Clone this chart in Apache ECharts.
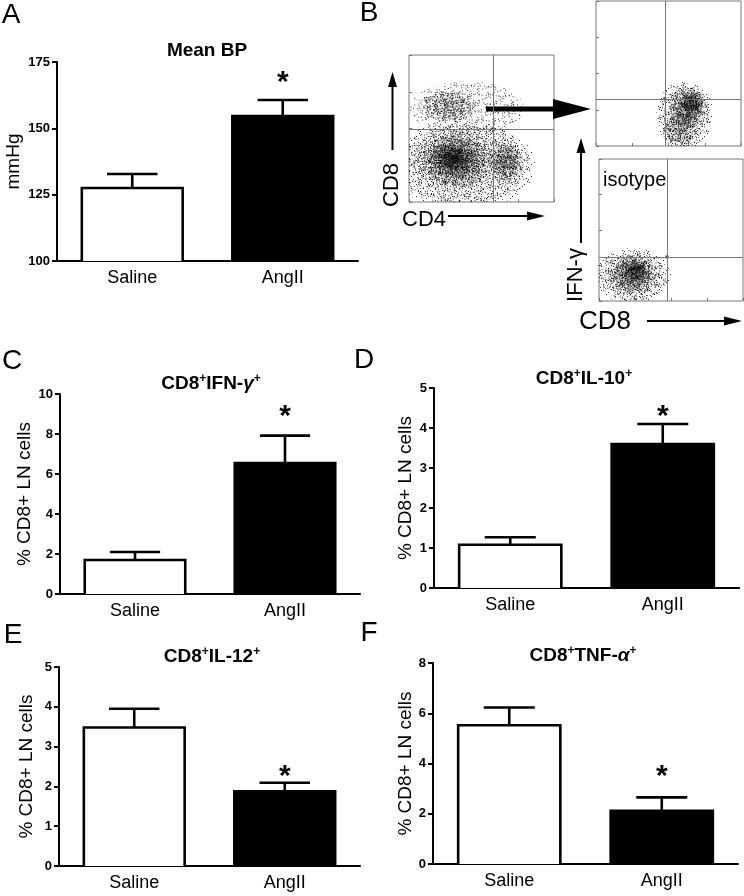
<!DOCTYPE html>
<html><head><meta charset="utf-8">
<script src="https://cdn.jsdelivr.net/npm/echarts@6/dist/echarts.min.js"></script>
<style>html,body{margin:0;padding:0;background:#fff}#c{width:744px;height:896px}</style>
</head><body><div id="c"></div>
<script>
// ---------- data ----------
const categories = ['Saline', 'AngII'];

const bpMean = [127.5, 154.6];
const bpSem = [5.3, 6.1];
const bpStar = [null, 169.7];

const ifngMean = [1.7, 6.55];
const ifngSem = [0.4, 1.37];
const ifngStar = [null, 9.2];

const il10Mean = [1.08, 3.6];
const il10Sem = [0.19, 0.5];
const il10Star = [null, 4.45];

const il12Mean = [3.48, 1.88];
const il12Sem = [0.47, 0.21];
const il12Star = [null, 2.41];

const tnfMean = [5.52, 2.12];
const tnfSem = [0.71, 0.53];
const tnfStar = [null, 3.75];

const yTicksA = [100, 175, 25];
const yTicksC = [0, 10, 2];
const yTicksD = [0, 5, 1];
const yTicksE = [0, 5, 1];
const yTicksF = [0, 8, 2];

// flow cytometry density clusters: [x, y, spreadX, spreadY, density] in log-decade units (0-4)
const flowCD4CD8 = [
  [1.5, 1.0, 1.9, 1.15, 0.22],
  [1.6, 2.55, 1.5, 0.7, 0.1],
  [1.08, 2.61, 0.75, 0.42, 0.4],
  [1.27, 1.14, 1.15, 0.78, 0.7],
  [1.19, 1.2, 0.58, 0.38, 0.9],
  [2.68, 1.09, 0.45, 0.6, 0.55]
];
const flowIFNg = [
  [2.45, 0.85, 0.75, 0.9, 0.22],
  [2.3, 0.45, 0.45, 0.5, 0.35],
  [2.54, 1.05, 0.5, 0.58, 0.55],
  [2.65, 1.19, 0.3, 0.35, 0.8]
];
const flowIsotype = [
  [0.95, 0.7, 1.0, 0.75, 0.22],
  [0.92, 0.73, 0.75, 0.55, 0.55],
  [1.03, 0.87, 0.4, 0.3, 0.75]
];
const gateCD4CD8 = [2.32, 1.99];
const gateIFNg = [1.90, 1.30];
const gateIsotype = [1.89, 1.24];

// ---------- setup ----------
const FF = "'Liberation Sans', Arial, Helvetica, sans-serif";
const FN = "'Liberation Sans Narrow', 'Arial Narrow', 'Liberation Sans', Arial, sans-serif";
const chart = echarts.init(document.getElementById('c'), null, {renderer: 'canvas', width: 744, height: 896});

// stipple texture tile (fixed dot layout) giving the flow clouds a dotted look
const tileDots = [[1,2],[8,4],[3,8],[10,10],[6,6],[0,11],[11,1]];
const tile = document.createElement('canvas');
tile.width = 12; tile.height = 12;
(function () {
  const g = tile.getContext('2d');
  g.fillStyle = '#000';
  tileDots.forEach(d => g.fillRect(d[0], d[1], 1, 1));
})();
const NL = 16;

const panels = [
  {mean: bpMean, sem: bpSem, star: bpStar, ticks: yTicksA, yName: 'mmHg',
   title: '{b|Mean BP}'},
  {mean: ifngMean, sem: ifngSem, star: ifngStar, ticks: yTicksC, yName: '% CD8+ LN cells',
   title: '{b|CD8}{s|+}{b|IFN-}{g|γ}{s|+}'},
  {mean: il10Mean, sem: il10Sem, star: il10Star, ticks: yTicksD, yName: '% CD8+ LN cells',
   title: '{b|CD8}{s|+}{b|IL-10}{s|+}'},
  {mean: il12Mean, sem: il12Sem, star: il12Star, ticks: yTicksE, yName: '% CD8+ LN cells',
   title: '{b|CD8}{s|+}{b|IL-12}{s|+}'},
  {mean: tnfMean, sem: tnfSem, star: tnfStar, ticks: yTicksF, yName: '% CD8+ LN cells',
   title: '{b|CD8}{s|+}{b|TNF-}{g|α}{s|+}'}
];
const layouts = [
  {left: 57, top: 62, width: 301, height: 199, nameGap: 34, tx: 207, ty: 51},
  {left: 60, top: 394, width: 300, height: 200, nameGap: 24, tx: 211, ty: 384},
  {left: 434, top: 388, width: 305, height: 200, nameGap: 19, tx: 584, ty: 379},
  {left: 59, top: 667, width: 301, height: 199, nameGap: 23, tx: 212, ty: 657},
  {left: 433, top: 663, width: 305, height: 201, nameGap: 18, tx: 583, ty: 656}
];
const flowSets = [
  {blobs: flowCD4CD8, gate: gateCD4CD8, box: {left: 409, top: 55, width: 145, height: 147}},
  {blobs: flowIFNg, gate: gateIFNg, box: {left: 596, top: 1, width: 145, height: 145}},
  {blobs: flowIsotype, gate: gateIsotype, box: {left: 599, top: 159, width: 144, height: 142}}
];

const grid = [], xAxis = [], yAxis = [], series = [], graphic = [];
const BW = 2.6;

panels.forEach((p, i) => {
  const L = layouts[i];
  grid.push({left: L.left, top: L.top, width: L.width, height: L.height, containLabel: false});
  xAxis.push({
    type: 'category', gridIndex: i, data: categories,
    axisLine: {onZero: false, lineStyle: {color: '#000', width: 2}},
    axisTick: {alignWithLabel: true, length: 5, lineStyle: {color: '#000', width: 2}},
    axisLabel: {color: '#000', fontSize: 18, fontFamily: FN, margin: 8}
  });
  yAxis.push({
    type: 'value', gridIndex: i, min: p.ticks[0], max: p.ticks[1], interval: p.ticks[2],
    axisLine: {show: true, lineStyle: {color: '#000', width: 2}},
    axisTick: {show: true, length: 5, lineStyle: {color: '#000', width: 2}},
    axisLabel: {color: '#000', fontSize: 13, fontWeight: 'bold', fontFamily: FF, margin: 7},
    splitLine: {show: false},
    name: p.yName, nameLocation: 'middle', nameRotate: 90, nameGap: L.nameGap,
    nameTextStyle: {color: '#000', fontSize: 19, fontFamily: FF}
  });
  series.push({
    type: 'custom', xAxisIndex: i, yAxisIndex: i, z: 2, clip: true,
    data: p.mean.map((v, j) => [j, v]),
    renderItem: (params, api) => {
      const j = api.value(0);
      const top = api.coord([j, api.value(1)]);
      const base = api.coord([j, p.ticks[0]]);
      const w = api.size([1, 0])[0] * 0.67;
      return {type: 'rect',
        shape: {x: top[0] - w / 2, y: top[1], width: w, height: base[1] - top[1] + 2},
        style: {fill: j === 0 ? '#fff' : '#000', stroke: '#000', lineWidth: BW}};
    }
  });
  series.push({
    type: 'custom', xAxisIndex: i, yAxisIndex: i, z: 3,
    data: p.mean.map((v, j) => [j, v, v + p.sem[j]]),
    renderItem: (params, api) => {
      const a = api.coord([api.value(0), api.value(1)]);
      const b = api.coord([api.value(0), api.value(2)]);
      const cap = api.size([1, 0])[0] * 0.67 * 0.25;
      return {type: 'group', children: [
        {type: 'line', shape: {x1: a[0], y1: a[1], x2: b[0], y2: b[1]}, style: {stroke: '#000', lineWidth: BW}},
        {type: 'line', shape: {x1: b[0] - cap, y1: b[1], x2: b[0] + cap, y2: b[1]}, style: {stroke: '#000', lineWidth: BW}}
      ]};
    }
  });
  const starData = [];
  p.star.forEach((s, j) => { if (s != null) starData.push([j, s]); });
  series.push({
    type: 'custom', xAxisIndex: i, yAxisIndex: i, z: 4, clip: false,
    data: starData,
    renderItem: (params, api) => {
      const c = api.coord([api.value(0), api.value(1)]);
      return {type: 'text', x: c[0], y: c[1] + 7,
        style: {text: '*', fill: '#000', font: 'bold 30px ' + FF, align: 'center', verticalAlign: 'middle'}};
    }
  });
  graphic.push({
    type: 'text', x: L.tx, y: L.ty,
    style: {
      text: p.title, align: 'center', verticalAlign: 'middle', fill: '#000',
      rich: {
        b: {fontSize: 19, fontWeight: 'bold', fontFamily: FF, lineHeight: 22},
        g: {fontSize: 19, fontWeight: 'bold', fontStyle: 'italic', fontFamily: FF, lineHeight: 22},
        s: {fontSize: 12, fontWeight: 'bold', fontFamily: FF, lineHeight: 22, verticalAlign: 'top', padding: [0, 0, 9, 0]}
      }
    }
  });
});

flowSets.forEach((f, k) => {
  const gi = panels.length + k;
  grid.push(Object.assign({show: true, borderColor: '#777', borderWidth: 1, backgroundColor: 'transparent'}, f.box));
  const ax = {
    type: 'value', gridIndex: gi, min: 0, max: 4, interval: 1,
    axisLine: {show: false}, axisLabel: {show: false}, splitLine: {show: false},
    axisTick: {show: true, inside: true, length: 3, lineStyle: {color: '#777', width: 1}}
  };
  xAxis.push(Object.assign({}, ax));
  yAxis.push(Object.assign({}, ax));
  series.push({
    type: 'custom', xAxisIndex: gi, yAxisIndex: gi, clip: true, z: 1,
    data: f.blobs,
    renderItem: (params, api) => {
      const c = api.coord([api.value(0), api.value(1)]);
      const s = api.size([api.value(2), api.value(3)]);
      const a = api.value(4);
      const idx = params.dataIndex;
      const children = [{
        type: 'ellipse', shape: {cx: c[0], cy: c[1], rx: s[0], ry: s[1]},
        style: {fill: new echarts.graphic.RadialGradient(0.5, 0.5, 0.5, [
          {offset: 0, color: 'rgba(0,0,0,' + (a * 0.55) + ')'},
          {offset: 0.5, color: 'rgba(0,0,0,' + (a * 0.22) + ')'},
          {offset: 1, color: 'rgba(0,0,0,0)'}
        ])}
      }];
      const n = Math.max(2, Math.round(a * NL * 1.1));
      for (let m = 0; m < n; m++) {
        const sc = 1.05 - 0.85 * m / NL;
        if (sc <= 0.12) break;
        children.push({
          type: 'ellipse', shape: {cx: c[0], cy: c[1], rx: s[0] * sc, ry: s[1] * sc},
          style: {fill: {image: tile, repeat: 'repeat', rotation: (m * 0.53 + idx * 0.31), x: m * 5 + idx * 3, y: m * 7 + idx * 2}, opacity: 0.8}
        });
      }
      return {type: 'group', children};
    }
  });
  series.push({
    type: 'scatter', xAxisIndex: gi, yAxisIndex: gi, z: 3,
    symbol: 'rect', symbolSize: 3, itemStyle: {color: '#000'},
    data: [f.gate], silent: true,
    markLine: {
      silent: true, symbol: 'none', label: {show: false}, animation: false,
      lineStyle: {color: '#777', width: 1, type: 'solid'},
      data: [{xAxis: f.gate[0]}, {yAxis: f.gate[1]}]
    }
  });
});

// panel letters
[['A', 11, 15], ['B', 369, 13], ['C', 12, 361], ['D', 364, 360], ['E', 13, 635], ['F', 369, 633]].forEach(l => {
  graphic.push({type: 'text', x: l[1], y: l[2],
    style: {text: l[0], fill: '#000', font: '28px ' + FF, align: 'center', verticalAlign: 'middle'}});
});

// flow labels and arrows
const txt = (t, x, y, size, rot, align) => ({type: 'text', x: x, y: y, rotation: rot || 0,
  style: {text: t, fill: '#000', font: size + 'px ' + FF, align: align || 'center', verticalAlign: 'middle'}});
graphic.push(txt('CD8', 392, 185, 22, Math.PI / 2));
graphic.push(txt('CD4', 424, 220, 22, 0));
graphic.push(txt('IFN-γ', 576, 275, 22, Math.PI / 2));
graphic.push(txt('CD8', 605, 322, 26, 0));
graphic.push(txt('isotype', 603, 180, 20, 0, 'left'));

const line = (x1, y1, x2, y2, w) => ({type: 'line', shape: {x1, y1, x2, y2}, style: {stroke: '#000', lineWidth: w}});
const poly = (pts) => ({type: 'polygon', shape: {points: pts}, style: {fill: '#000'}});
graphic.push(line(392.5, 150, 392.5, 84, 2));
graphic.push(poly([[392.5, 72], [388, 87], [397, 87]]));
graphic.push(line(448, 216, 530, 216, 2));
graphic.push(poly([[545, 216], [527, 211.5], [527, 220.5]]));
graphic.push(line(486, 109, 556, 109, 5));
graphic.push(poly([[591, 109], [553, 99], [553, 119]]));
graphic.push(line(581, 243, 581, 150, 2));
graphic.push(poly([[581, 138], [576.5, 153], [585.5, 153]]));
graphic.push(line(647, 321, 726, 321, 2));
graphic.push(poly([[742, 321], [724, 316.5], [724, 325.5]]));

chart.setOption({
  animation: false,
  backgroundColor: '#fff',
  textStyle: {fontFamily: FF},
  grid, xAxis, yAxis, series, graphic
});
</script>
</body></html>
